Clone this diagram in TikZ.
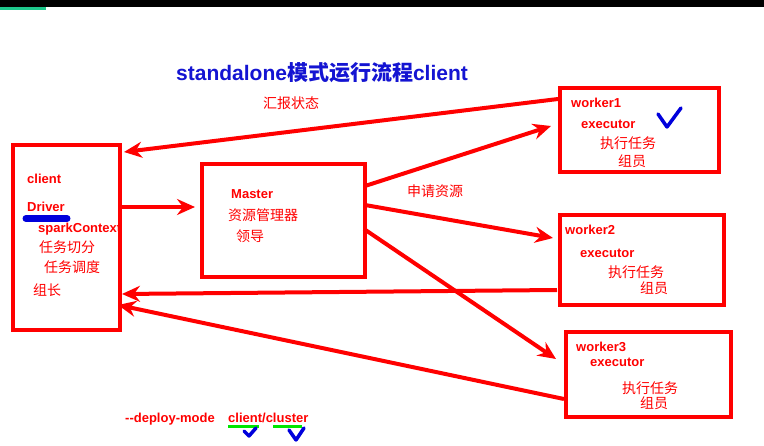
\documentclass[tikz,border=0pt]{standalone}
\usepackage{fontspec}
\setmainfont{Liberation Sans}
\newfontfamily\cjk{Noto Sans CJK SC}
\usetikzlibrary{arrows.meta}
\definecolor{pptred}{RGB}{255,0,0}
\definecolor{pptblue}{RGB}{0,0,220}
\definecolor{titleblue}{RGB}{20,20,210}
\definecolor{hlgreen}{RGB}{0,230,0}
\definecolor{tealbar}{RGB}{30,200,140}
\tikzset{
  box/.style={draw=pptred, line width=4pt, rectangle, inner sep=0pt},
  lat/.style={anchor=base west, inner sep=0pt, text=pptred, font=\bfseries\fontsize{13}{13}\selectfont},
  han/.style={anchor=base west, inner sep=0pt, text=pptred, font=\cjk\fontsize{14}{14}\selectfont},
  arr/.style={draw=pptred, line width=4pt, -{Stealth[length=18pt,width=16pt,inset=6pt]}},
  tick/.style={draw=pptblue, line width=3.5pt, line cap=round, line join=round},
}
\begin{document}
\begin{tikzpicture}[x=1pt,y=-1pt]
\useasboundingbox (0,0) rectangle (764,446);
\fill[white] (0,0) rectangle (764,446);
% top screen bar
\fill[black] (0,0) rectangle (764,7);
\fill[tealbar] (0,7) rectangle (46,10);

% title
\node[anchor=base west, inner sep=0pt, text=titleblue, font=\bfseries\fontsize{21}{21}\selectfont] (title) at (176,81) {standalone{\cjk 模式运行流程}client};

% boxes
\node[box, minimum width=107pt, minimum height=185pt] (client) at (66.5,237.5) {};
\node[box, minimum width=163pt, minimum height=113pt] (master) at (283.5,220.5) {};
\node[box, minimum width=159pt, minimum height=84pt] (w1) at (639.5,130) {};
\node[box, minimum width=164pt, minimum height=90pt] (w2) at (642,260) {};
\node[box, minimum width=165pt, minimum height=85pt] (w3) at (648.5,374.5) {};

% client texts
\draw[draw=pptblue, line width=7pt, line cap=round] (26,218.5) -- (67,218.5);
\node[lat] (tclient) at (27,184) {client};
\node[lat] (tdriver) at (27,212) {Driver};
\node[lat] (tspark) at (38,233) {sparkContext};
\node[han] (tqf) at (39,253) {任务切分};
\node[han] (tdd) at (44,273) {任务调度};
\node[han] (tzz) at (33,296) {组长};

% master texts
\node[lat] (tmaster) at (231,199) {Master};
\node[han] (tzy) at (228,221) {资源管理器};
\node[han] (tld) at (236,242) {领导};

% worker1
\node[lat] (tw1) at (571,108) {worker1};
\node[lat] (te1) at (581,129) {executor};
\node[han] (tr1) at (600,149) {执行任务};
\node[han] (ty1) at (618,167) {组员};
\draw[tick] (658,114) -- (667,127) -- (681,108);

% worker2
\node[lat] (tw2) at (565,235) {worker2};
\node[lat] (te2) at (580,258) {executor};
\node[han] (tr2) at (608,278) {执行任务};
\node[han] (ty2) at (640,294) {组员};

% worker3
\node[lat] (tw3) at (576,352) {worker3};
\node[lat] (te3) at (590,367) {executor};
\node[han] (tr3) at (622,394) {执行任务};
\node[han] (ty3) at (640,409) {组员};

% labels
\node[han] (lhb) at (263,109) {汇报状态};
\node[han] (lsq) at (407,197) {申请资源};

% arrow endpoints
\coordinate (w1a) at (558,99);
\coordinate (ca) at (124,152);
\coordinate (cb) at (120,207);
\coordinate (mb) at (195,207);
\coordinate (m1) at (365,186);
\coordinate (w1b) at (551,126);
\coordinate (m2) at (365,205);
\coordinate (w2b) at (553,238);
\coordinate (m3) at (364,229);
\coordinate (w3b) at (556,359);
\coordinate (w2a) at (557,290);
\coordinate (cc) at (122,294);
\coordinate (w3a) at (564,399);
\coordinate (cd) at (118,305);

\draw[arr] (w1a) -- (ca);
\draw[arr] (cb) -- (mb);
\draw[arr] (m1) -- (w1b);
\draw[arr] (m2) -- (w2b);
\draw[arr] (m3) -- (w3b);
\draw[arr] (w2a) -- (cc);
\draw[arr] (w3a) -- (cd);

% bottom
\node[lat] (tdm) at (125,423) {-{}-deploy-mode};
\draw[hlgreen, line width=3pt] (228,427) -- (259,427);
\draw[hlgreen, line width=3pt] (273,427) -- (302,427);
\node[lat] (tcc) at (228,423) {client/cluster};
\draw[tick] (244,431) -- (249,436) -- (256,428);
\draw[tick] (289,430) -- (296,440) -- (304,428);
\end{tikzpicture}
\end{document}
